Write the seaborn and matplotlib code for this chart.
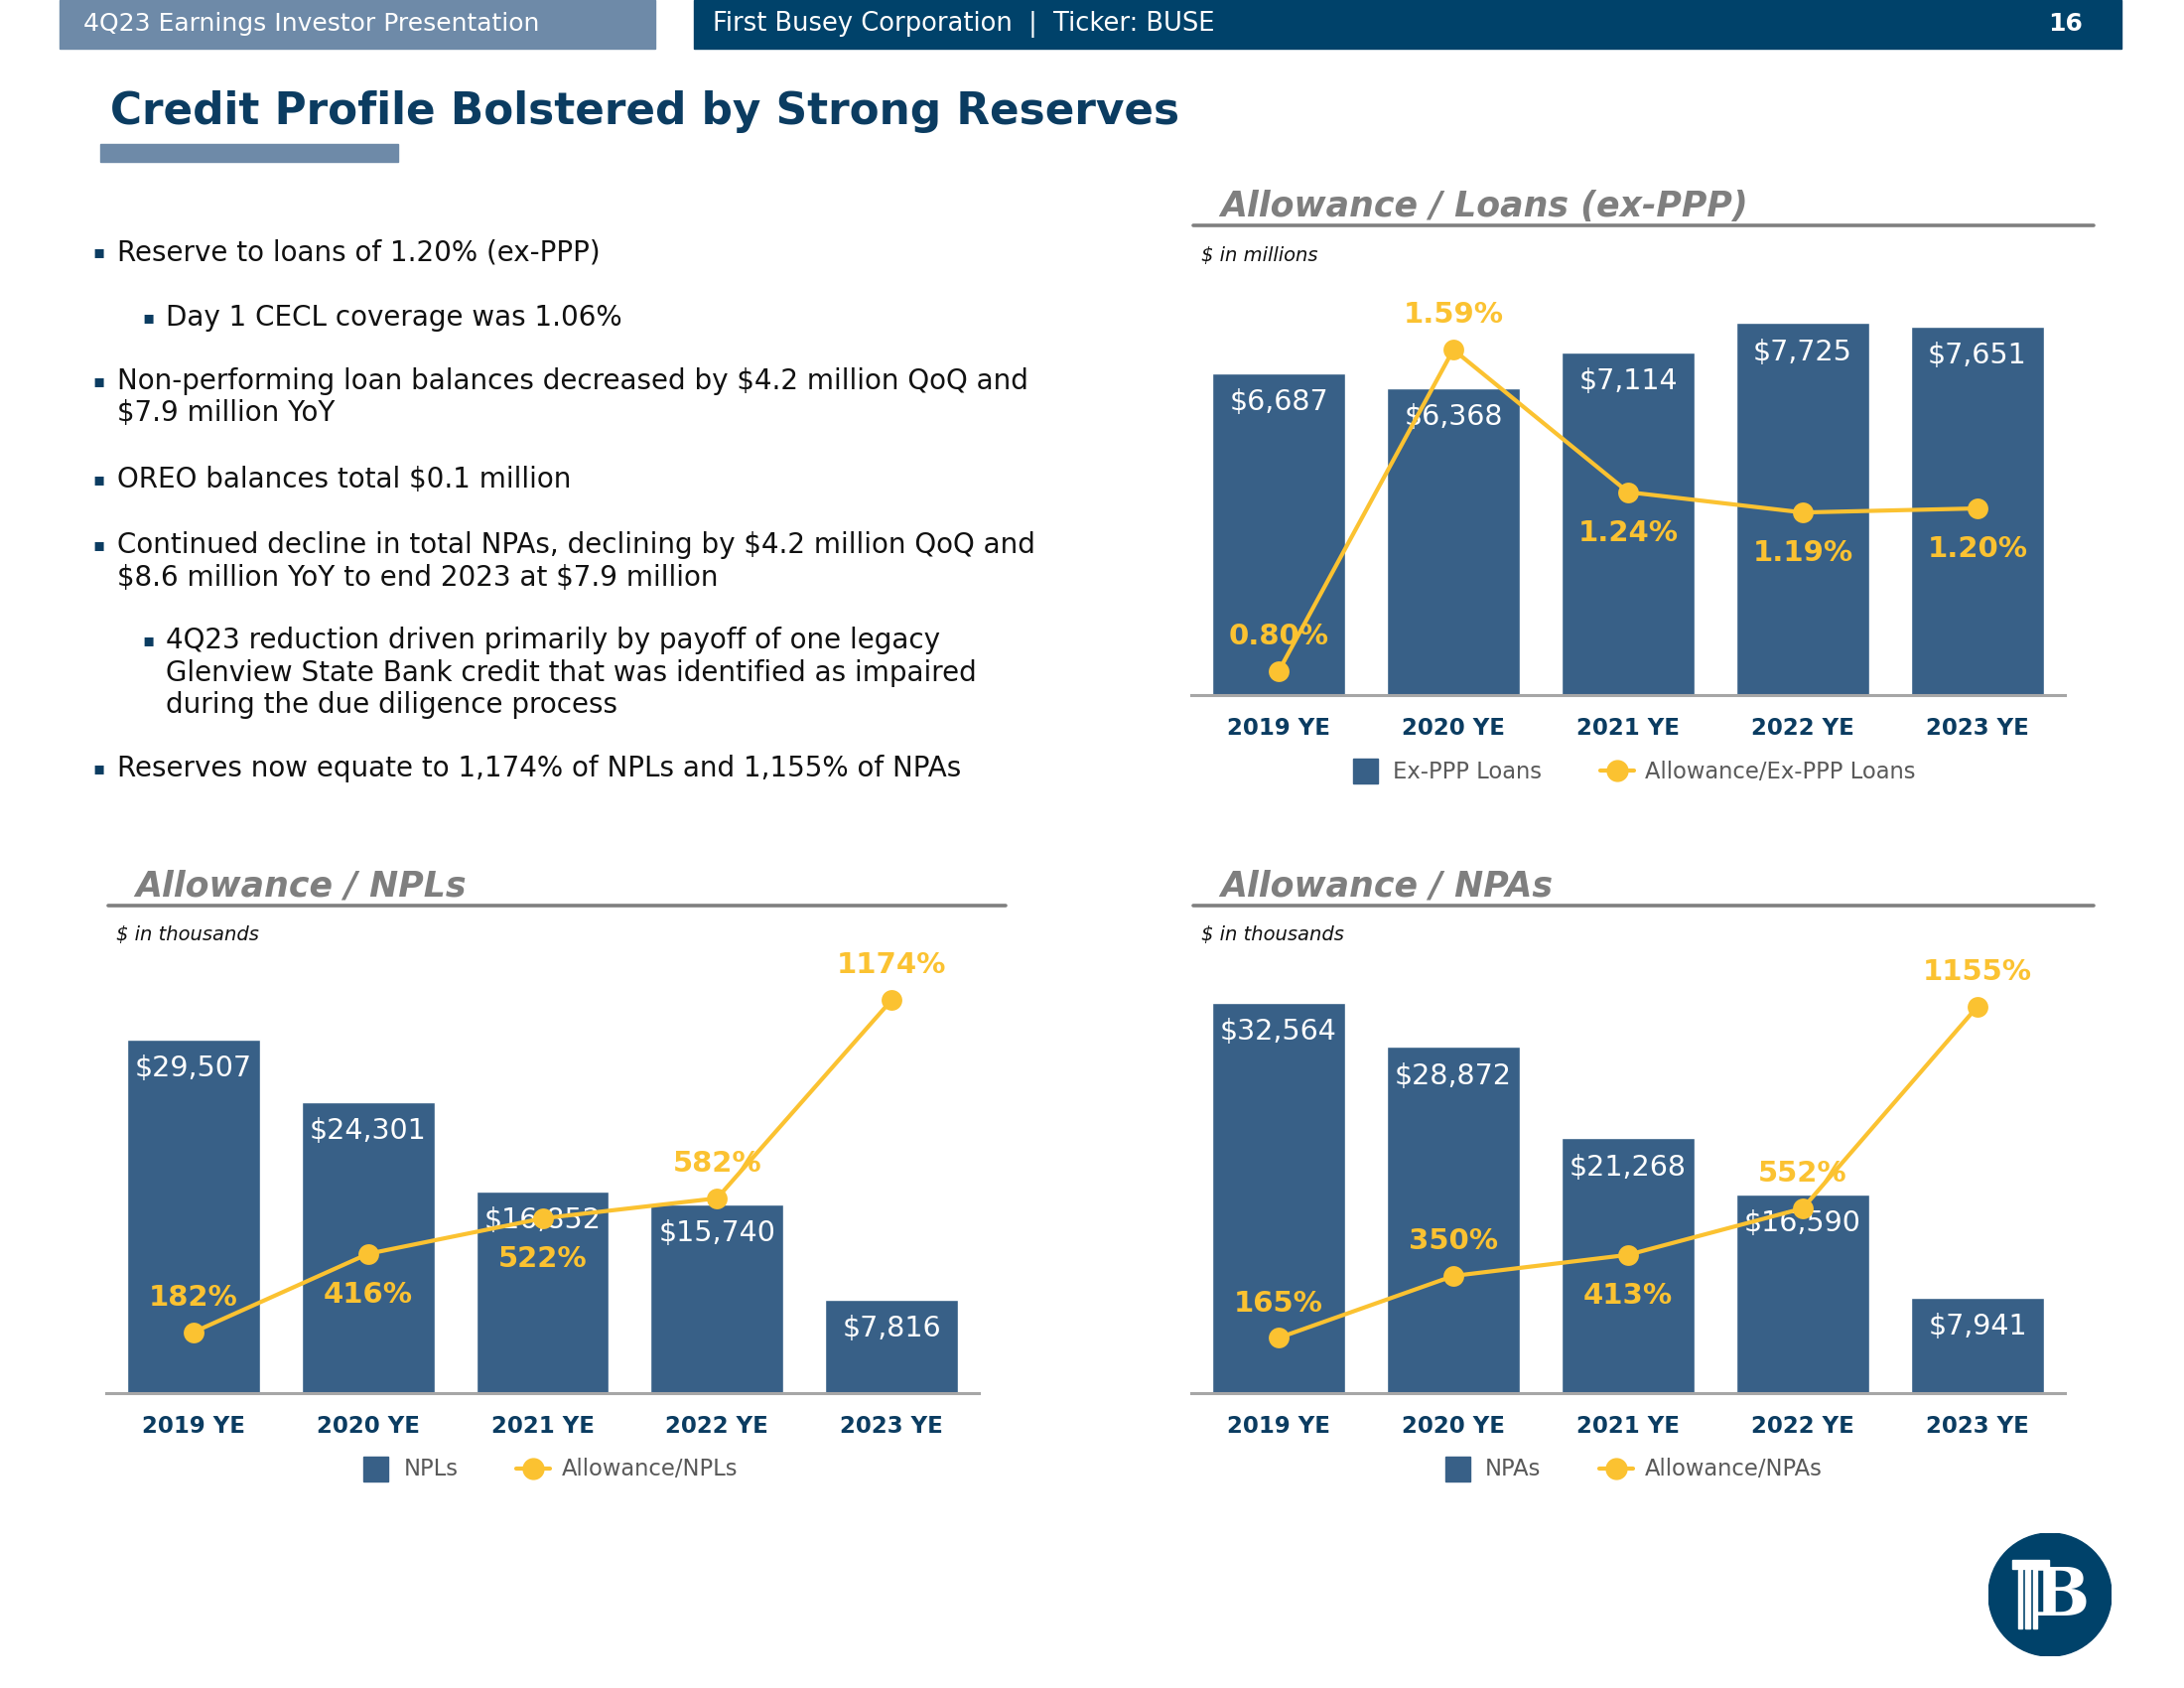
import numpy as np
import pandas as pd
import matplotlib
matplotlib.use("Agg")
import matplotlib.pyplot as plt
from matplotlib.lines import Line2D
from matplotlib.patches import Circle, Rectangle
import seaborn as sns

# ---- data ----
years = ["2019 YE", "2020 YE", "2021 YE", "2022 YE", "2023 YE"]

loans = [6687, 6368, 7114, 7725, 7651]            # $ in millions
allow_loans = [0.80, 1.59, 1.24, 1.19, 1.20]      # %
loans_pos = ["above", "above", "below", "below", "below"]

npls = [29507, 24301, 16852, 15740, 7816]         # $ in thousands
allow_npls = [182, 416, 522, 582, 1174]           # %
npls_pos = ["above", "below", "below", "above", "above"]

npas = [32564, 28872, 21268, 16590, 7941]         # $ in thousands
allow_npas = [165, 350, 413, 552, 1155]           # %
npas_pos = ["above", "above", "below", "above", "above"]

bullets = [
    (0, ["Reserve to loans of 1.20% (ex-PPP)"]),
    (1, ["Day 1 CECL coverage was 1.06%"]),
    (0, ["Non-performing loan balances decreased by $4.2 million QoQ and",
         "$7.9 million YoY"]),
    (0, ["OREO balances total $0.1 million"]),
    (0, ["Continued decline in total NPAs, declining by $4.2 million QoQ and",
         "$8.6 million YoY to end 2023 at $7.9 million"]),
    (1, ["4Q23 reduction driven primarily by payoff of one legacy",
         "Glenview State Bank credit that was identified as impaired",
         "during the due diligence process"]),
    (0, ["Reserves now equate to 1,174% of NPLs and 1,155% of NPAs"]),
]
bullet_y = [254, 320, 384, 483, 549, 645, 774]

# ---- style ----
BAR = "#386087"
GOLD = "#FBC231"
NAVY = "#0B3C61"
HEAD = "#00426A"
GREY = "#7F7F7F"

sns.set_theme(style="white")
plt.rcParams["font.family"] = ["DejaVu Sans"]

W, H = 2200, 1700
fig = plt.figure(figsize=(22, 17), dpi=100)


def fx(x):
    return x / W


def fy(y):
    return 1 - y / H


# header bars
fig.patches.append(Rectangle((fx(60), fy(49)), fx(600), 49 / H, transform=fig.transFigure,
                             color="#6E8AA8", zorder=0))
fig.patches.append(Rectangle((fx(699), fy(49)), fx(1438), 49 / H, transform=fig.transFigure,
                             color=HEAD, zorder=0))
fig.text(fx(84), fy(24), "4Q23 Earnings Investor Presentation", color="white",
         fontsize=18, va="center")
fig.text(fx(718), fy(24), "First Busey Corporation  |  Ticker: BUSE", color="white",
         fontsize=18.5, va="center")
fig.text(fx(2098), fy(24), "16", color="white", fontsize=18, fontweight="bold",
         va="center", ha="right")

# title
fig.text(fx(111), fy(113), "Credit Profile Bolstered by Strong Reserves", color=NAVY,
         fontsize=31.5, fontweight="bold", va="center")
fig.patches.append(Rectangle((fx(101), fy(163)), fx(300), 18 / H, transform=fig.transFigure,
                             color="#6E8AA8"))

# bullets
for (lvl, lines), y in zip(bullets, bullet_y):
    bx = 93 if lvl == 0 else 143
    tx = 118 if lvl == 0 else 167
    fig.text(fx(bx), fy(y), "\u25aa", color=NAVY, fontsize=13, va="center")
    for k, line in enumerate(lines):
        fig.text(fx(tx), fy(y + k * 32.5), line, color="#111111", fontsize=20,
                 va="center", parse_math=False)


def panel(left, right, base, top, head_y, title, unit, bars, pct, pos,
          bmax, lmin, lmax, fmt, bar_lab, line_lab, leg_x, leg_y):
    ax = fig.add_axes([fx(left), fy(base), fx(right - left), (base - top) / H])
    df = pd.DataFrame({"year": years, "val": bars, "pct": pct})
    sns.barplot(data=df, x="year", y="val", color=BAR, width=0.76, saturation=1, ax=ax)
    ax.set_ylim(0, bmax)
    ax.set_xlim(-0.5, 4.5)
    for i, v in enumerate(bars):
        ax.annotate(f"${v:,}", (i, v), xytext=(0, -11), textcoords="offset points",
                    ha="center", va="top", color="white", fontsize=20.5, parse_math=False)
    ax2 = ax.twinx()
    sns.lineplot(data=df, x="year", y="pct", color=GOLD, marker="o", markersize=15,
                 linewidth=3, markeredgewidth=0, ax=ax2, sort=False)
    ax2.set_ylim(lmin, lmax)
    for i, (v, p) in enumerate(zip(pct, pos)):
        dy = 25 if p == "above" else -29.5
        ax2.annotate(fmt(v), (i, v), xytext=(0, dy), textcoords="offset points",
                     ha="center", va="center", color=GOLD, fontsize=21, fontweight="bold")
    for a in (ax, ax2):
        a.set_xlabel("")
        a.set_ylabel("")
        a.set_yticks([])
        for s in ("top", "left", "right"):
            a.spines[s].set_visible(False)
    ax2.spines["bottom"].set_visible(False)
    ax.spines["bottom"].set_color("#A6A6A6")
    ax.spines["bottom"].set_linewidth(2.2)
    ax.set_xticks(range(len(years)), labels=years)
    ax.tick_params(axis="x", length=0, pad=16, labelsize=16.5, labelcolor=NAVY)
    for t in ax.get_xticklabels():
        t.set_fontweight("bold")
    ax.set_facecolor("none")

    # section heading
    hl = left + 2
    fig.text(fx(hl + 27), fy(head_y - 19), title, color=GREY, fontsize=25,
             fontweight="bold", fontstyle="italic", va="center")
    fig.add_artist(Line2D([fx(hl), fx(2109 if left > 1000 else 1013)], [fy(head_y), fy(head_y)],
                          color=GREY, linewidth=2.6))
    fig.text(fx(hl + 8), fy(head_y + 30), unit, color="#111111", fontsize=14,
             fontstyle="italic", va="center", parse_math=False)

    handles = [Line2D([], [], color=BAR, marker="s", linestyle="none", markersize=18),
               Line2D([], [], color=GOLD, marker="o", linewidth=3, markersize=15)]
    fig.legend(handles, [bar_lab, line_lab], loc="center", bbox_to_anchor=(fx(leg_x), fy(leg_y)),
               ncol=2, frameon=False, fontsize=16.3, labelcolor="#595959", handlelength=1.5,
               handletextpad=0.5, columnspacing=2.6)
    return ax


panel(1200, 2080, 700, 290, 227, "Allowance / Loans (ex-PPP)", "$ in millions",
      loans, allow_loans, loans_pos, 8455, 0.7415, 1.7415, lambda v: f"{v:.2f}%",
      "Ex-PPP Loans", "Allowance/Ex-PPP Loans", 1644, 777)
panel(107, 986, 1403, 960, 912, "Allowance / NPLs", "$ in thousands",
      npls, allow_npls, npls_pos, 36700, 0, 1314, lambda v: f"{v}%",
      "NPLs", "Allowance/NPLs", 552, 1480)
panel(1200, 2080, 1403, 960, 912, "Allowance / NPAs", "$ in thousands",
      npas, allow_npas, npas_pos, 36700, 0, 1314, lambda v: f"{v}%",
      "NPAs", "Allowance/NPAs", 1643, 1480)

# logo
lax = fig.add_axes([fx(2003), fy(1668), fx(124), 124 / H])
lax.set_xlim(-1, 1)
lax.set_ylim(-1, 1)
lax.set_aspect("equal")
lax.axis("off")
lax.add_patch(Circle((0, 0), 1, color=HEAD))
lax.text(0.2, -0.04, "B", color="white", fontsize=48, fontweight="bold",
         family="DejaVu Serif", ha="center", va="center")
lax.add_patch(Rectangle((-0.62, 0.42), 0.6, 0.14, color="white"))
for cx in (-0.52, -0.4, -0.28):
    lax.add_patch(Rectangle((cx, -0.55), 0.07, 0.95, color="white"))

fig.savefig("out.png", dpi=100)
